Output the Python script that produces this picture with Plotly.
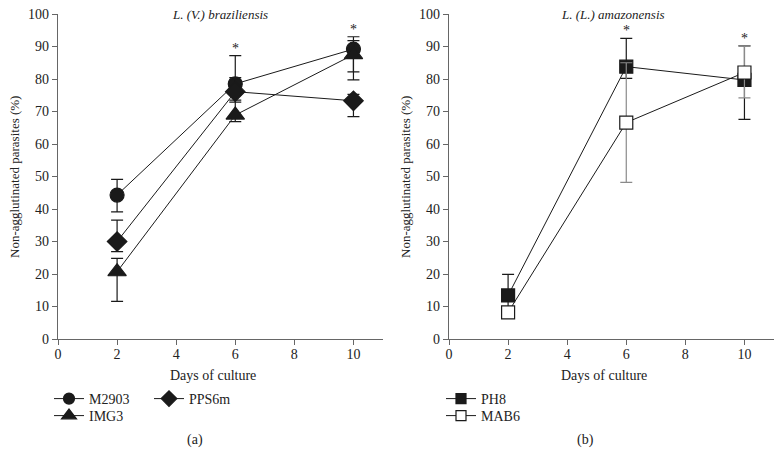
import plotly.graph_objects as go

days = [2, 6, 10]

# Panel (a): L. (V.) braziliensis
m2903 = [44.3, 78.5, 89.2]
m2903_up = [4.8, 8.7, 3.8]
m2903_dn = [5.2, 5.0, 7.0]

pps6m = [30.0, 76.1, 73.3]
pps6m_up = [6.6, 4.3, 2.0]
pps6m_dn = [3.1, 3.2, 4.9]

img3 = [20.7, 68.9, 87.5]
img3_up = [4.1, 10.8, 4.3]
img3_dn = [9.1, 2.0, 7.8]

# Panel (b): L. (L.) amazonensis
ph8 = [13.4, 83.8, 79.7]
ph8_up = [6.5, 8.7, 10.5]
ph8_dn = [6.5, 3.6, 12.1]

mab6 = [8.2, 66.6, 82.0]
mab6_up = [1.0, 18.4, 8.2]
mab6_dn = [1.0, 18.4, 7.8]

x_ticks = [0, 2, 4, 6, 8, 10]
y_ticks = [0, 10, 20, 30, 40, 50, 60, 70, 80, 90, 100]
star_days_a = [6, 10]
star_days_b = [6, 10]

FONT = "Liberation Serif"
INK = "#1a1a1a"
TXT = "#222222"
W, H = 783, 455

fig = go.Figure()


def add_series(name, y, up, dn, symbol, size, xa, ya, legend, fill=INK, ecolor=INK):
    fig.add_trace(go.Scatter(
        x=days, y=y, name=name, mode="lines+markers",
        xaxis=xa, yaxis=ya, showlegend=False,
        line=dict(color=INK, width=1),
        marker=dict(symbol=symbol, size=size, color=fill,
                    line=dict(color=INK, width=1.2)),
        error_y=dict(type="data", array=up, arrayminus=dn, symmetric=False,
                     color=ecolor, thickness=1.2, width=6),
    ))
    # legend-only key (empty data) with a smaller marker, as in the reference key
    fig.add_trace(go.Scatter(
        x=[None], y=[None], name=name, mode="lines+markers",
        xaxis=xa, yaxis=ya, legend=legend, showlegend=True,
        line=dict(color=INK, width=1),
        marker=dict(symbol=symbol, size=size - 3, color=fill,
                    line=dict(color=INK, width=1.2)),
    ))


add_series("M2903", m2903, m2903_up, m2903_dn, "circle", 14, "x", "y", "legend")
add_series("IMG3", img3, img3_up, img3_dn, "triangle-up", 16, "x", "y", "legend2")
add_series("PPS6m", pps6m, pps6m_up, pps6m_dn, "diamond", 15, "x", "y", "legend3")
add_series("PH8", ph8, ph8_up, ph8_dn, "square", 13, "x2", "y2", "legend4")
add_series("MAB6", mab6, mab6_up, mab6_dn, "square", 13, "x2", "y2", "legend5",
           fill="white", ecolor="#8a8a8a")

axis_common = dict(
    showline=True, linecolor="#666666", linewidth=1.2,
    ticks="outside", ticklen=5, tickwidth=1.2, tickcolor="#666666",
    showgrid=False, zeroline=False, automargin=False,
    tickfont=dict(family=FONT, size=14, color=TXT),
)

xa = dict(axis_common, range=[0, 11], tickvals=x_ticks, ticklabelstandoff=-3)
ya = dict(axis_common, range=[0, 100], tickvals=y_ticks)

x0a, x1a = 58 / W, 383 / W
x0b, x1b = 449 / W, 774 / W
y0, y1 = 1 - 339 / H, 1 - 14 / H

leg_common = dict(orientation="v", xanchor="left", yanchor="middle",
                  font=dict(family=FONT, size=14, color=TXT),
                  itemwidth=30, tracegroupgap=0,
                  bgcolor="rgba(0,0,0,0)", borderwidth=0)

def leg(xpx, ypx):
    return dict(leg_common, x=xpx / W, y=1 - ypx / H)

fig.update_layout(
    width=W, height=H,
    margin=dict(l=0, r=0, t=0, b=0, autoexpand=False),
    paper_bgcolor="white", plot_bgcolor="white",
    font=dict(family=FONT, color=TXT),
    xaxis=dict(xa, domain=[x0a, x1a], anchor="y"),
    yaxis=dict(ya, domain=[y0, y1], anchor="x"),
    xaxis2=dict(xa, domain=[x0b, x1b], anchor="y2"),
    yaxis2=dict(ya, domain=[y0, y1], anchor="x2"),
    legend=leg(49, 399),
    legend2=leg(49, 416),
    legend3=leg(149, 399),
    legend4=leg(441, 399),
    legend5=leg(441, 416),
    showlegend=True,
)

def pa(text, x, y, size=14, angle=0):
    return dict(text=text, x=x / W, y=1 - y / H, xref="paper", yref="paper",
                xanchor="center", yanchor="middle",
                showarrow=False, textangle=angle, font=dict(family=FONT, size=size, color=TXT))

annotations = [
    pa("<i>L. (V.) braziliensis</i>", 220, 14, 13),
    pa("<i>L. (L.) amazonensis</i>", 613, 14, 13),
    pa("Days of culture", 213, 375, 14),
    pa("Days of culture", 604, 375, 14),
    pa("Non-agglutinated parasites (%)", 15, 177, 13, -90),
    pa("Non-agglutinated parasites (%)", 406, 177, 13, -90),
    pa("(a)", 195, 440, 14),
    pa("(b)", 585, 440, 14),
]

# significance stars above the highest error bar at each starred day
def top_at(d, series):
    i = days.index(d)
    return max(s[i] + u[i] for s, u in series)

for d in star_days_a:
    annotations.append(dict(text="*", x=d, y=top_at(d, [(m2903, m2903_up), (pps6m, pps6m_up), (img3, img3_up)]),
                            xref="x", yref="y", yanchor="bottom", yshift=-2, showarrow=False,
                            font=dict(family=FONT, size=14, color=TXT)))
for d in star_days_b:
    annotations.append(dict(text="*", x=d, y=top_at(d, [(ph8, ph8_up), (mab6, mab6_up)]),
                            xref="x2", yref="y2", yanchor="bottom", yshift=-2, showarrow=False,
                            font=dict(family=FONT, size=14, color=TXT)))

fig.update_layout(annotations=annotations)

fig.write_html("out.html", config={"displayModeBar": False},
               post_script="document.body.style.margin='0';")
